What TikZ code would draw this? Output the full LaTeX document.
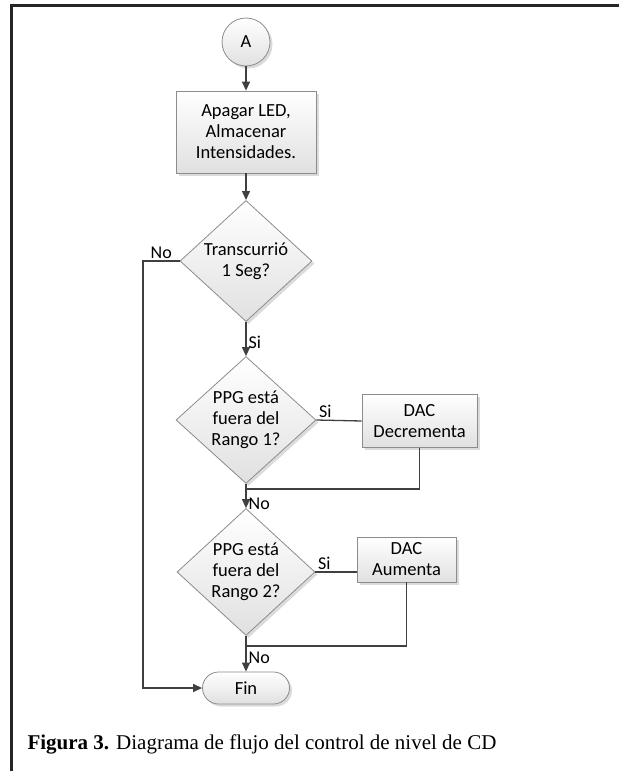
\documentclass[tikz,border=0pt]{standalone}
\usepackage{fontspec}
\setmainfont{Liberation Serif}
\newfontfamily\calibrifont{Carlito}
\usepackage{xcolor}
\usepackage{tikz}
\usetikzlibrary{shapes.geometric,shapes.misc,shadows,arrows.meta}

\tikzset{
    box/.style={draw=black!45, line width=0.8pt, top color=white, bottom color=black!12,
        drop shadow={shadow xshift=2.5pt, shadow yshift=-2.5pt, fill=black!35, opacity=0.4},
        align=center, inner sep=0pt, font=\calibrifont\fontsize{18.5}{21}\selectfont},
    proc/.style={box, rectangle},
    dec/.style={box, diamond},
    term/.style={box, circle, minimum size=48pt},
    finbox/.style={box, rounded rectangle, minimum width=87pt, minimum height=32pt},
    lbl/.style={font=\calibrifont\fontsize{18}{20}\selectfont, inner sep=2pt},
    link/.style={draw=black!75, line width=1.3pt},
    flow/.style={link, -{Triangle[length=9pt,width=8pt]}}
}

\begin{document}
\begin{tikzpicture}[x=1pt, y=-1pt]
            \useasboundingbox (0,0) rectangle (619,771);
            \draw[line width=3pt, black!85] (11,771) -- (11,5.5) -- (619,5.5);

            \node[term] (A) at (246, 42) {A};
            \node[proc, minimum width=140pt, minimum height=82pt] (leds) at (246, 132)
                {Apagar LED,\\Almacenar\\Intensidades.};
            \node[dec, minimum width=132pt, minimum height=118pt] (seg) at (246, 261)
                {Transcurrió\\1 Seg?};
            \node[dec, minimum width=140pt, minimum height=126pt] (rango1) at (246, 420)
                {PPG está\\fuera del\\Rango 1?};
            \node[proc, minimum width=115pt, minimum height=53pt] (decr) at (419.5, 421)
                {DAC\\Decrementa};
            \node[dec, minimum width=138pt, minimum height=126pt] (rango2) at (246, 572)
                {PPG está\\fuera del\\Rango 2?};
            \node[proc, minimum width=99pt, minimum height=45pt] (aum) at (406.5, 559.5)
                {DAC\\Aumenta};
            \node[finbox] (fin) at (246, 688) {Fin};

            \coordinate (nol) at (143, 261);
            \coordinate (m1) at (246, 489);
            \coordinate (m2) at (246, 646);

            \draw[flow] (A) -- (leds);
            \draw[flow] (leds) -- (seg);
            \draw[flow] (seg) -- node[lbl, right, pos=0.6] {Si} (rango1);
            \draw[link] (rango1.east) -- node[lbl, above right, pos=0] {Si} (decr.west);
            \draw[link] (decr) |- (m1);
            \draw[flow] (rango1) -- node[lbl, right, pos=0.8] {No} (rango2);
            \draw[link] (rango2.east) -- node[lbl, above right, pos=0] {Si} (rango2.east -| aum.west);
            \draw[link] (aum) |- (m2);
            \draw[flow] (rango2) -- node[lbl, right, pos=0.62] {No} (fin);
            \draw[flow] (seg.west) -- node[lbl, above] {No} (nol) |- (fin);

            \node[anchor=base west, font=\fontsize{21}{24}\selectfont] (cap) at (24, 749)
                {\textbf{Figura 3.} Diagrama de flujo del control de nivel de CD};
        \end{tikzpicture}
\end{document}
